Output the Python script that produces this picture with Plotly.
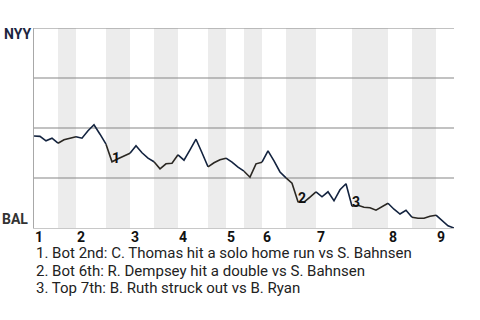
import plotly.graph_objects as go

# Win probability (NYY %) after each plate appearance (index 0 = game start)
wp_nyy = [46.0, 45.8, 43.6, 44.9, 42.4, 44.1, 44.9, 45.6, 44.9, 48.6,
          51.6, 46.9, 41.9, 33.1, 34.6, 36.1, 37.4, 41.1, 37.6, 34.9,
          33.1, 29.6, 32.1, 32.4, 36.6, 33.9, 39.1, 44.4, 37.6, 30.6,
          32.6, 34.1, 34.9, 32.9, 30.4, 28.4, 25.4, 32.1, 32.9, 38.6,
          33.6, 28.0, 25.1, 22.4, 13.1, 12.9, 15.4, 18.1, 15.6, 18.1,
          13.6, 19.1, 22.1, 10.9, 11.4, 10.4, 10.1, 8.9, 10.6, 12.4,
          9.4, 7.0, 8.9, 5.4, 4.9, 4.9, 5.9, 6.4, 3.6, 1.1, 0.0]

# plate appearances in each half inning (top 1, bot 1, top 2, ...)
half_inning_pa = [4, 3, 5, 4, 4, 4, 5, 3, 3, 3, 4, 5, 6, 6, 4, 4, 3]
inning_labels = ["1", "2", "3", "4", "5", "6", "7", "8", "9"]

# key plays: (PA index, label)
key_pa = [13, 44, 53]
key_labels = ["1", "2", "3"]
key_notes = ["1. Bot 2nd: C. Thomas hit a solo home run vs S. Bahnsen",
             "2. Bot 6th: R. Dempsey hit a double vs S. Bahnsen",
             "3. Top 7th: B. Ruth struck out vs B. Ryan"]

team_top = "NYY"
team_bottom = "BAL"

NAVY = "#13233f"
DARK = "#2a2722"

bounds = [0]
for n in half_inning_pa:
    bounds.append(bounds[-1] + n)
n_pa = bounds[-1]

fig = go.Figure()

shapes = []
# shaded bottom halves
for k in range(len(half_inning_pa)):
    if k % 2 == 1:
        shapes.append(dict(type="rect", xref="x", yref="y", x0=bounds[k], x1=bounds[k + 1],
                           y0=0, y1=100, fillcolor="#ececec", line=dict(width=0), layer="below"))
# grid lines
for g in [25, 50, 75, 100]:
    shapes.append(dict(type="line", xref="x", yref="y", x0=0, x1=n_pa, y0=g, y1=g,
                       line=dict(color="#858585", width=1.2), layer="below"))

# line per half inning
for k in range(len(half_inning_pa)):
    xs = list(range(bounds[k], bounds[k + 1] + 1))
    ys = [wp_nyy[i] for i in xs]
    fig.add_trace(go.Scatter(x=xs, y=ys, mode="lines",
                             line=dict(color=NAVY if k % 2 == 0 else DARK, width=1.6),
                             hoverinfo="skip", showlegend=False))

annotations = []
for pa, lab in zip(key_pa, key_labels):
    annotations.append(dict(x=pa, y=wp_nyy[pa], xref="x", yref="y", text=lab, showarrow=False,
                            xanchor="center", yanchor="middle", xshift=4, yshift=4,
                            font=dict(family="Roboto", size=14, color="#111111", weight="bold")))
# inning labels
for j, lab in enumerate(inning_labels):
    annotations.append(dict(x=bounds[2 * j], y=0, xref="x", yref="y", text=lab, showarrow=False,
                            xanchor="left", yanchor="top", xshift=-1, yshift=1,
                            font=dict(family="Roboto", size=14, color="#111111", weight="bold")))
# team labels
annotations.append(dict(x=0, y=100, xref="x", yref="y", text=team_top, showarrow=False,
                        xanchor="right", yanchor="middle", xshift=-1, yshift=-6,
                        font=dict(family="Roboto", size=14, color="#1c2540", weight="bold")))
annotations.append(dict(x=0, y=0, xref="x", yref="y", text=team_bottom, showarrow=False,
                        xanchor="right", yanchor="middle", xshift=-4, yshift=9,
                        font=dict(family="Roboto", size=14, color="#333333", weight="bold")))
# notes
for j, note in enumerate(key_notes):
    annotations.append(dict(x=0, y=0, xref="x", yref="y", text=note, showarrow=False,
                            xanchor="left", yanchor="middle", xshift=0, yshift=-25 - 17.7 * j,
                            font=dict(family="Roboto", size=15, color="#222222")))

fig.update_layout(
    width=480, height=320,
    margin=dict(l=34, r=26, t=28, b=92),
    plot_bgcolor="white", paper_bgcolor="white",
    shapes=shapes, annotations=annotations,
    xaxis=dict(range=[0, n_pa], showgrid=False, zeroline=False, showticklabels=False,
               showline=True, linecolor="#c8c8c8", linewidth=1, ticks=""),
    yaxis=dict(range=[0, 100], showgrid=False, zeroline=False, showticklabels=False,
               showline=True, linecolor="#a8a8a8", linewidth=1, ticks=""),
)

fig.write_html("out.html")
